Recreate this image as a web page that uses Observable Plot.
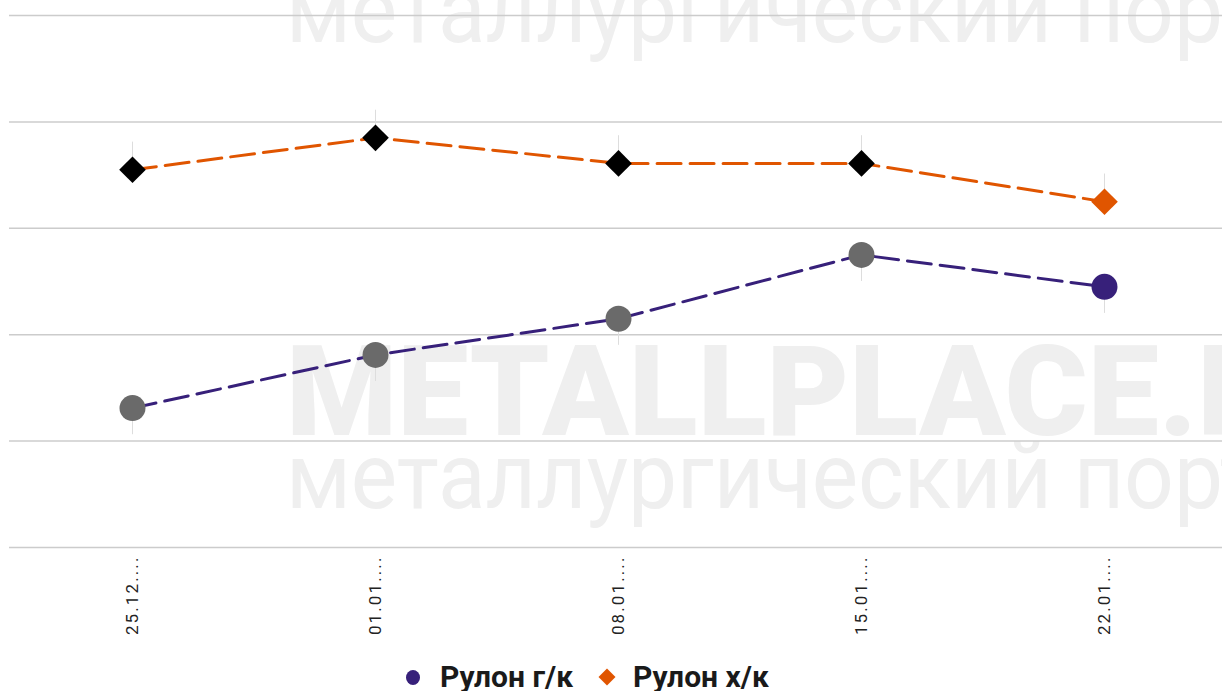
<!DOCTYPE html>
<html>
<head>
<meta charset="utf-8">
<script src="https://cdn.jsdelivr.net/npm/d3@7"></script>
<script src="https://cdn.jsdelivr.net/npm/@observablehq/plot@0.6"></script>
<style>
  html, body { margin: 0; padding: 0; background: #fff; }
  body { width: 1222px; height: 691px; overflow: hidden; position: relative; font-family: Roboto, "Noto Sans", sans-serif; }
  .wm { position: absolute; white-space: nowrap; color: #efefef; font-family: Roboto, sans-serif; line-height: 1; z-index: 0; transform-origin: left top; }
  #chart { position: absolute; left: 0; top: 0; z-index: 1; }
  #legend { position: absolute; left: 406px; top: 662px; z-index: 2; display: flex; align-items: center; font-weight: 700; font-size: 30px; line-height: 30px; color: #1a1a1a; }
  .item { display: flex; align-items: center; margin-right: 26px; }
  .sw { display: inline-block; margin-right: 18px; }
</style>
</head>
<body>
<div class="wm" style="left:286px; top:-35px; font-size:92px; transform:scaleX(0.95);">металлургический портал</div>
<div class="wm" style="left:286px; top:328px; font-size:127px; font-weight:900;">METALLPLACE.RU</div>
<div class="wm" style="left:286px; top:431px; font-size:92px; transform:scaleX(0.95);">металлургический портал</div>
<div id="chart"></div>
<div id="legend"></div>
<script>
// ---- data ----
const dates = ["25.12....", "01.01....", "08.01....", "15.01....", "22.01...."];
const seriesNames = ["Рулон г/к", "Рулон х/к"];
const hotRolled = [13.1, 18.1, 21.5, 27.5, 24.5];   // Рулон г/к
const coldRolled = [35.5, 38.5, 36.1, 36.1, 32.5];  // Рулон х/к
const gridTicks = [0, 10, 20, 30, 40, 50];

// ---- styles ----
const colors = {"Рулон г/к": "#37207a", "Рулон х/к": "#e05500"};
const inactive = {"Рулон г/к": "#6a6a6a", "Рулон х/к": "#000000"};
const symbols = {"Рулон г/к": "circle", "Рулон х/к": "diamond2"};

const rows = [];
[hotRolled, coldRolled].forEach((vals, s) => {
  vals.forEach((v, i) => rows.push({date: dates[i], value: v, series: seriesNames[s], last: i === vals.length - 1}));
});
const hot = rows.filter(d => d.series === seriesNames[0]);
const cold = rows.filter(d => d.series === seriesNames[1]);

const W = 1222, H = 645;
const chart = Plot.plot({
  width: W,
  height: H,
  marginLeft: 9,
  marginRight: 0,
  marginTop: 15,
  marginBottom: 98,
  style: {background: "transparent", fontFamily: "Roboto, sans-serif"},
  x: {type: "point", domain: dates, range: [130, 1105], padding: 0, label: null},
  y: {domain: [0, 50], axis: null},
  marks: [
    Plot.ruleY(gridTicks, {stroke: "#cccccc", strokeWidth: 1.5}),
    Plot.ruleX(cold, {x: "date", y1: "value", y2: d => d.value + 2.6, stroke: "#dddddd", strokeWidth: 1}),
    Plot.ruleX(hot, {x: "date", y1: "value", y2: d => d.value - 2.5, stroke: "#dddddd", strokeWidth: 1}),
    Plot.line(cold, {x: "date", y: "value", stroke: colors[seriesNames[1]], strokeWidth: 3, strokeDasharray: "24,9"}),
    Plot.line(hot, {x: "date", y: "value", stroke: colors[seriesNames[0]], strokeWidth: 3, strokeDasharray: "24,9"}),
    Plot.dot(cold, {x: "date", y: "value", symbol: symbols[seriesNames[1]], r: 12,
      fill: d => d.last ? colors[d.series] : inactive[d.series], stroke: "none"}),
    Plot.dot(hot, {x: "date", y: "value", symbol: symbols[seriesNames[0]], r: 13,
      fill: d => d.last ? colors[d.series] : inactive[d.series], stroke: "none"}),
    Plot.axisX({tickRotate: -90, tickSize: 0, tickPadding: 8, fontSize: 17, fill: "#222", label: null})
  ]
});
d3.select(chart).selectAll("g[aria-label='x-axis tick label'] text").style("letter-spacing", "2.1px");
document.getElementById("chart").appendChild(chart);

// ---- legend ----
const legend = document.getElementById("legend");
seriesNames.forEach(name => {
  const item = document.createElement("div");
  item.className = "item";
  const sw = document.createElement("span");
  sw.className = "sw";
  if (symbols[name] === "circle") {
    sw.style.cssText = `width:14px;height:15px;border-radius:50%;background:${colors[name]};margin-right:20px;`;
  } else {
    sw.style.cssText = `width:12px;height:12px;background:${colors[name]};transform:rotate(45deg);margin-left:2px;margin-right:20px;`;
  }
  const t = document.createElement("span");
  t.textContent = name;
  item.appendChild(sw);
  item.appendChild(t);
  legend.appendChild(item);
});
</script>
</body>
</html>
